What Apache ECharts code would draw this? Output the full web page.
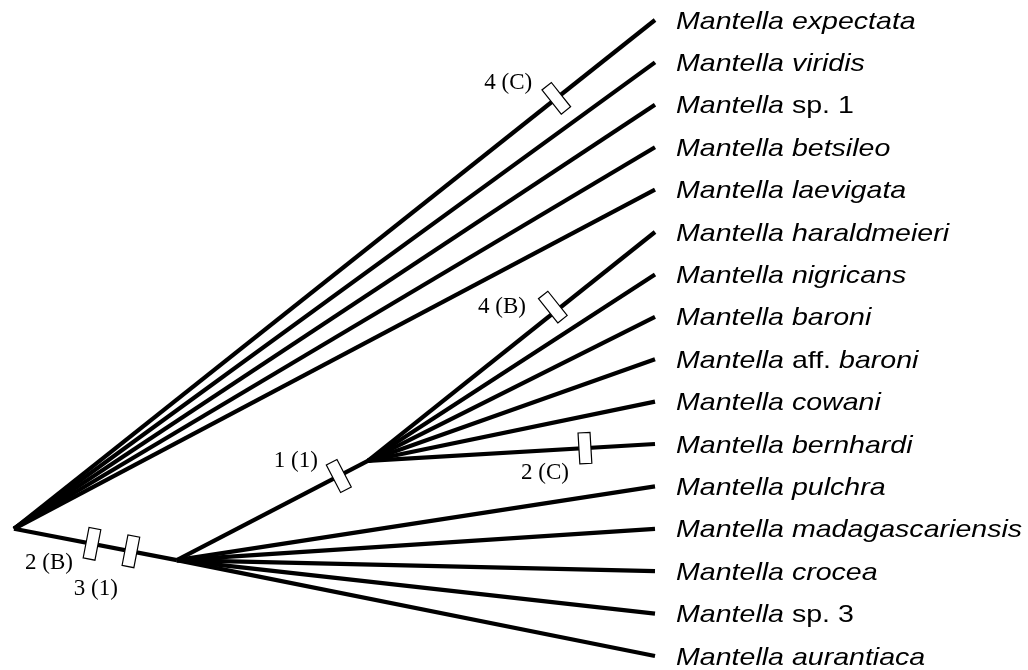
<!DOCTYPE html>
<html><head><meta charset="utf-8">
<script src="https://cdn.jsdelivr.net/npm/echarts@6/dist/echarts.min.js"></script>
<style>html,body{margin:0;padding:0;background:#fff}#chart{width:1028px;height:670px}</style>
</head><body><div id="chart"></div>
<script>
// ---------- DATA ----------
const tipNames = [
  'Mantella expectata', 'Mantella viridis', 'Mantella sp. 1', 'Mantella betsileo',
  'Mantella laevigata', 'Mantella haraldmeieri', 'Mantella nigricans', 'Mantella baroni',
  'Mantella aff. baroni', 'Mantella cowani', 'Mantella bernhardi', 'Mantella pulchra',
  'Mantella madagascariensis', 'Mantella crocea', 'Mantella sp. 3', 'Mantella aurantiaca'
];
const tipParents = ['root','root','root','root','root','B','B','B','B','B','B','A','A','A','A','A'];
const tipDepth = 100;
const nodeNames = ['root', 'A', 'B'];
const nodeParents = [null, 'root', 'A'];
const nodeDepths = [0, 25.4, 55.2];
const nodeRows = [12, 12.74, 10.4];
const charLabels = ['4 (C)', '4 (B)', '2 (C)', '1 (1)', '2 (B)', '3 (1)'];
const charBranches = ['Mantella expectata', 'Mantella haraldmeieri', 'Mantella bernhardi', 'B', 'A', 'A'];
const charFractions = [0.846, 0.655, 0.756, 0.848, 0.479, 0.718];

// ---------- STYLE (pixel offsets) ----------
const charLabelOffsets = [[-48,-15],[-54,-4],[-40,25],[-43,-15],[-43,19],[-35,38]];
const charBoxShift = [0, 5, 0, 0, 0, 0];

// ---------- BUILD ----------
const pos = {};
nodeNames.forEach((n, i) => { pos[n] = [nodeDepths[i], nodeRows[i]]; });
tipNames.forEach((n, i) => { pos[n] = [tipDepth, i]; });
const parentOf = {};
nodeNames.forEach((n, i) => { if (nodeParents[i]) parentOf[n] = nodeParents[i]; });
tipNames.forEach((n, i) => { parentOf[n] = tipParents[i]; });

const edges = [];
Object.keys(parentOf).forEach(child => {
  const p = pos[parentOf[child]], c = pos[child];
  edges.push([p[0], p[1], c[0], c[1]]);
});
const marks = charLabels.map((lab, k) => {
  const c = pos[charBranches[k]], p = pos[parentOf[charBranches[k]]];
  return [p[0], p[1], c[0], c[1], charFractions[k], k];
});
const tips = tipNames.map((n, i) => [tipDepth, i, i]);

function richName(name) {
  return name.split(' ').map(w => /^(sp\.|aff\.|\d+)$/.test(w) ? '{n|' + w + '}' : '{i|' + w + '}').join(' ');
}
const sansFont = "'Liberation Sans', Arial, sans-serif";
const serifFont = "'Liberation Serif', 'Times New Roman', serif";

const chart = echarts.init(document.getElementById('chart'));
chart.setOption({
  animation: false,
  backgroundColor: '#fff',
  grid: { left: 14, right: 373, top: 20, bottom: 14 },
  xAxis: { type: 'value', min: 0, max: 100, show: false },
  yAxis: { type: 'value', min: 0, max: 15, inverse: true, show: false },
  series: [
    {
      type: 'custom', coordinateSystem: 'cartesian2d', z: 2,
      encode: { x: [0, 2], y: [1, 3] },
      data: edges,
      renderItem(params, api) {
        const a = api.coord([api.value(0), api.value(1)]);
        const b = api.coord([api.value(2), api.value(3)]);
        return { type: 'line', shape: { x1: a[0], y1: a[1], x2: b[0], y2: b[1] },
          style: { stroke: '#000', lineWidth: 4.2, lineCap: 'butt' } };
      }
    },
    {
      type: 'custom', coordinateSystem: 'cartesian2d', z: 3,
      encode: { x: [0, 2], y: [1, 3] },
      data: marks,
      renderItem(params, api) {
        const a = api.coord([api.value(0), api.value(1)]);
        const b = api.coord([api.value(2), api.value(3)]);
        const t = api.value(4), k = api.value(5);
        const dx = b[0] - a[0], dy = b[1] - a[1];
        const len = Math.hypot(dx, dy);
        const ux = dx / len, uy = dy / len;
        const nx = uy, ny = -ux;
        const bx = a[0] + t * dx, by = a[1] + t * dy;
        const s = charBoxShift[k];
        const cx = bx + nx * s, cy = by + ny * s;
        const hw = 6, hl = 15.5;
        const pts = [
          [cx - ux * hw - nx * hl, cy - uy * hw - ny * hl],
          [cx + ux * hw - nx * hl, cy + uy * hw - ny * hl],
          [cx + ux * hw + nx * hl, cy + uy * hw + ny * hl],
          [cx - ux * hw + nx * hl, cy - uy * hw + ny * hl]
        ];
        const off = charLabelOffsets[k];
        return { type: 'group', children: [
          { type: 'polygon', shape: { points: pts }, style: { fill: '#fff', stroke: '#000', lineWidth: 1.2 } },
          { type: 'text', style: { x: bx + off[0], y: by + off[1], text: charLabels[k],
              fontFamily: serifFont, fontSize: 23, fill: '#000', align: 'center', verticalAlign: 'middle' } }
        ] };
      }
    },
    {
      type: 'custom', coordinateSystem: 'cartesian2d', z: 4,
      encode: { x: 0, y: 1 },
      data: tips,
      renderItem(params, api) {
        const p = api.coord([api.value(0), api.value(1)]);
        const i = api.value(2);
        return { type: 'text', x: p[0] + 21, y: p[1] + 2, scaleX: 1.19,
          style: { text: richName(tipNames[i]), x: 0, y: 0, fontFamily: sansFont, fontSize: 24,
            fill: '#000', align: 'left', verticalAlign: 'middle',
            rich: {
              i: { fontStyle: 'italic', fontFamily: sansFont, fontSize: 24, fill: '#000' },
              n: { fontStyle: 'normal', fontFamily: sansFont, fontSize: 24, fill: '#000' }
            } } };
      }
    }
  ]
});
</script></body></html>
